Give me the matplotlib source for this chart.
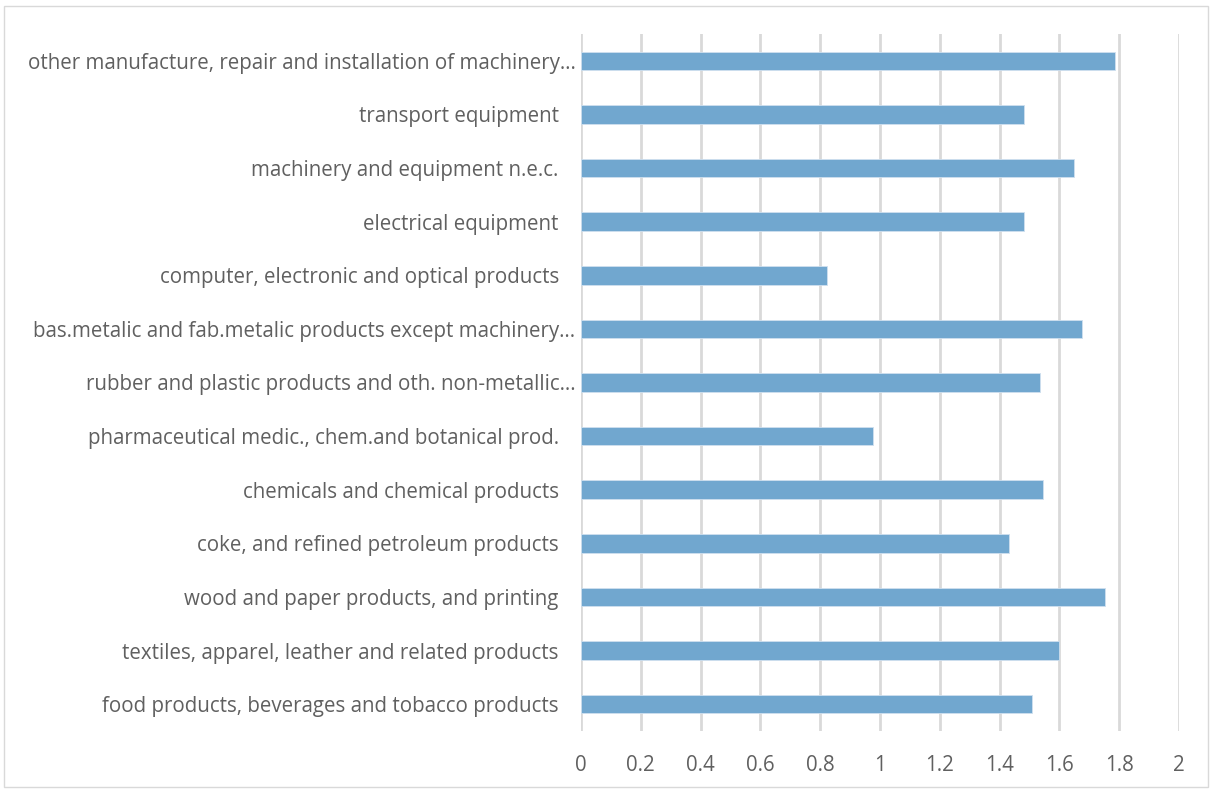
import matplotlib
matplotlib.use('Agg')
import matplotlib.pyplot as plt
from matplotlib.patches import Rectangle

# categories from bottom to top
categories = [
    'food products, beverages and tobacco products',
    'textiles, apparel, leather and related products',
    'wood and paper products, and printing',
    'coke, and refined petroleum products',
    'chemicals and chemical products',
    'pharmaceutical medic., chem.and botanical prod.',
    'rubber and plastic products and oth. non-metallic\u2026',
    'bas.metalic and fab.metalic products except machinery\u2026',
    'computer, electronic and optical products',
    'electrical equipment',
    'machinery and equipment n.e.c.',
    'transport equipment',
    'other manufacture, repair and installation of machinery\u2026',
]
values = [1.507, 1.599, 1.751, 1.431, 1.544, 0.978, 1.535,
          1.677, 0.822, 1.480, 1.650, 1.480, 1.786]
xticks = [0, 0.2, 0.4, 0.6, 0.8, 1, 1.2, 1.4, 1.6, 1.8, 2]
xticklabels = ['0', '0.2', '0.4', '0.6', '0.8', '1', '1.2', '1.4', '1.6', '1.8', '2']

plt.rcParams['font.family'] = ['Open Sans', 'DejaVu Sans']
TXT = '#606060'

fig = plt.figure(figsize=(12.1, 7.89), dpi=100)
ax = fig.add_axes([581 / 1210, 1 - 731 / 789, (1179 - 581) / 1210, (731 - 34) / 789])

ypos = list(range(len(categories)))
ax.barh(ypos, values, height=0.345, color='#71a7cf', edgecolor='#cfe0ef', linewidth=0.6, zorder=3)

ax.set_xlim(0, 2)
ax.set_ylim(-0.5, len(categories) - 0.5)
ax.set_xticks(xticks)
ax.set_xticklabels(xticklabels)
ax.set_yticks(ypos)
ax.set_yticklabels([])
ax.grid(axis='x', color='#d9d9d9', linewidth=2, zorder=0)
for s in ax.spines.values():
    s.set_visible(False)
ax.tick_params(axis='both', length=0, colors=TXT, labelsize=14.8)
ax.tick_params(axis='x', pad=17)

# category labels: full names keep a trailing gap, truncated ones sit closer
for y, lab in zip(ypos, categories):
    off = -4 if lab.endswith('\u2026') else -16
    ax.annotate(lab, xy=(0, y), xycoords=('axes fraction', 'data'),
                xytext=(off, 0), textcoords='offset points',
                ha='right', va='center_baseline', fontsize=14.8, color=TXT)

# outer chart border
fig.patches.append(Rectangle((4 / 1210, 0.002), 1 - 6 / 1210, 1 - 8 / 789,
                             transform=fig.transFigure, fill=False,
                             edgecolor='#d9d9d9', linewidth=1))

fig.savefig('out.png', dpi=100)
